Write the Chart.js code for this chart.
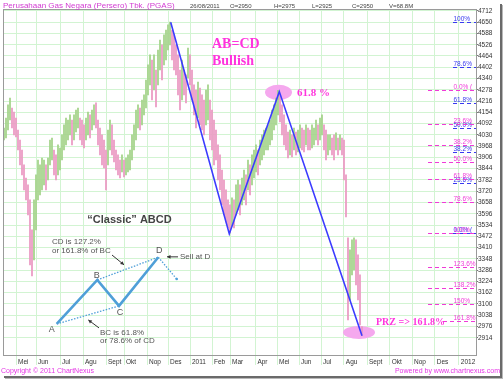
<!DOCTYPE html>
<html lang="id">
<head>
<meta charset="UTF-8">
<title>PGAS - ABCD Bullish</title>
<script src="https://cdn.jsdelivr.net/npm/chart.js"></script>
<style>
    body { margin: 0; background: #fff; }
    #wrap { width: 504px; height: 379px; }
</style>
</head>
<body>
<div id="wrap"><canvas id="chart" width="504" height="379"></canvas></div>
<script>
// one bar every ~2 trading days, May 2010 .. 26 Aug 2011
const highs = [
    4068, 4123, 4195, 4233, 4178, 4156, 4123, 4057, 4002, 3947,
    3865, 3793, 3755, 3672, 3507, 3672, 3810, 3892, 3865, 3903,
    3892, 3865, 3903, 4002, 4013, 3947, 3920, 3975, 3958, 4030,
    4085, 4123, 4112, 4140, 4112, 4140, 4167, 4178, 4123, 4112,
    4085, 4123, 4156, 4140, 4167, 4195, 4206, 4112, 4068, 4030,
    4002, 3947, 4057, 4112, 4085, 4002, 3947, 3920, 3892, 3920,
    3892, 3903, 3920, 3947, 4030, 4085, 4167, 4195, 4178, 4222,
    4250, 4332, 4415, 4470, 4442, 4470, 4387, 4497, 4552, 4525,
    4580, 4607, 4635, 4651, 4607, 4580, 4525, 4470, 4387, 4442,
    4387, 4360, 4508, 4470, 4387, 4305, 4277, 4321, 4288, 4250,
    4222, 4277, 4305, 4222, 4167, 4112, 4057, 3975, 3920, 3837,
    3782, 3727, 3672, 3645, 3683, 3672, 3755, 3782, 3755, 3793,
    3837, 3810, 3892, 3865, 3920, 3947, 3975, 3947, 4002, 4030,
    4057, 4068, 4085, 4112, 4167, 4195, 4233, 4275, 4250, 4195,
    4140, 4085, 4046, 4057, 4030, 4068, 4046, 4057, 4085, 4068,
    4057, 4085, 4068, 4057, 4085, 4068, 4112, 4085, 4123, 4140,
    4085, 4057, 4030, 4030, 4013, 4030, 4041, 4013, 4030, 4013,
    4002, 3810, 3463, 3397, 3452, 3463, 3452, 3370, 3260, 2975
];
const lows = [
    4002, 4013, 4057, 4112, 4068, 4030, 4019, 3947, 3865, 3810,
    3727, 3672, 3590, 3315, 3254, 3342, 3507, 3672, 3700, 3727,
    3755, 3727, 3782, 3865, 3892, 3810, 3782, 3810, 3837, 3892,
    3947, 3975, 4002, 4030, 3975, 4002, 4046, 4068, 4002, 3975,
    3958, 4002, 4030, 4013, 4057, 4085, 4068, 3975, 3920, 3865,
    3848, 3727, 3865, 3947, 3920, 3881, 3837, 3810, 3793, 3826,
    3799, 3810, 3826, 3837, 3892, 3947, 4002, 4068, 4057, 4085,
    4140, 4178, 4250, 4305, 4222, 4277, 4184, 4305, 4387, 4332,
    4415, 4442, 4497, 4525, 4442, 4387, 4360, 4250, 4167, 4222,
    4250, 4206, 4343, 4305, 4222, 4140, 4068, 4123, 4085, 4057,
    4030, 4085, 4112, 4002, 3947, 3865, 3892, 3782, 3727, 3645,
    3590, 3551, 3518, 3490, 3529, 3518, 3590, 3617, 3590, 3645,
    3672, 3645, 3727, 3700, 3755, 3793, 3826, 3810, 3865, 3892,
    3920, 3947, 3947, 3975, 4002, 4057, 4085, 4140, 4101, 4030,
    3975, 3947, 3903, 3920, 3909, 3947, 3920, 3936, 3958, 3947,
    3936, 3975, 3947, 3947, 3958, 3975, 4002, 3975, 4002, 4030,
    3947, 3892, 3920, 3947, 3920, 3892, 3947, 3920, 3947, 3920,
    3782, 3579, 3012, 3122, 3260, 3287, 3205, 3122, 2984, 2925
];

const monthNames = ['Mei', 'Jun', 'Jul', 'Agu', 'Sept', 'Okt', 'Nop', 'Des', '2011', 'Feb', 'Mar',
                    'Apr', 'Mei', 'Jun', 'Jul', 'Agu', 'Sept', 'Okt', 'Nop', 'Des', '2012'];
const monthPos = [6, 16, 28, 39.5, 51, 60, 71.5, 82, 93, 104, 113,
                  125.7, 136.5, 147.5, 158.5, 169.9, 181.5, 192.9, 204, 215.4, 227.4];
const yTicks = [4712, 4650, 4588, 4526, 4464, 4402, 4340, 4278, 4216, 4154, 4092, 4030, 3968, 3906, 3844,
                3782, 3720, 3658, 3596, 3534, 3472, 3410, 3348, 3286, 3224, 3162, 3100, 3038, 2976, 2914];

// A-B-C-D swing points (bar index, price)
const abcdX = [83.35, 112.65, 137.65, 179];
const abcdY = [4650, 3485, 4268, 2925];

const swingA = 4650, swingB = 3490, swingC = 4275;
const fibBlue = [100, 78.6, 61.8, 50, 38.2, 23.6, 0];
const fibPink = [0, 23.6, 38.2, 50, 61.8, 78.6, 100, 123.6, 138.2, 150, 161.8];

const SANS = '"Liberation Sans", Arial, sans-serif';
const SERIF = '"Liberation Serif", "Times New Roman", serif';
const PINK = '#ff33dd';

const bars = highs.map((h, i) => ({ x: i, y: [lows[i], h] }));
const barColors = highs.map((h, i) => {
    if (i === 0) return '#a4d38a';
    return (h + lows[i]) < (highs[i - 1] + lows[i - 1]) ? '#eb9ac3' : '#a4d38a';
});
const abcdPts = abcdX.map((x, i) => ({ x: x, y: abcdY[i] }));

function fibText(r) {
    return (r >= 100 && Number.isInteger(r)) ? r + '%' : r.toFixed(1) + '%';
}

function arrow(ctx, x1, y1, x2, y2, color) {
    const a = Math.atan2(y2 - y1, x2 - x1);
    ctx.strokeStyle = color;
    ctx.fillStyle = color;
    ctx.lineWidth = 1;
    ctx.setLineDash([]);
    ctx.beginPath(); ctx.moveTo(x1, y1); ctx.lineTo(x2, y2); ctx.stroke();
    ctx.beginPath();
    ctx.moveTo(x2, y2);
    ctx.lineTo(x2 - 4 * Math.cos(a - 0.5), y2 - 4 * Math.sin(a - 0.5));
    ctx.lineTo(x2 - 4 * Math.cos(a + 0.5), y2 - 4 * Math.sin(a + 0.5));
    ctx.closePath(); ctx.fill();
}

const overlay = {
    id: 'overlay',
    beforeDatasetsDraw(chart) {
        const ctx = chart.ctx, xs = chart.scales.x, ys = chart.scales.y;
        ctx.save();
        ctx.fillStyle = '#f5a8ee';
        ctx.beginPath();
        ctx.ellipse(xs.getPixelForValue(137.25), ys.getPixelForValue(4264), 13.5, 7.5, 0, 0, Math.PI * 2);
        ctx.fill();
        ctx.beginPath();
        ctx.ellipse(xs.getPixelForValue(177.5), ys.getPixelForValue(2943), 16, 6.5, 0, 0, Math.PI * 2);
        ctx.fill();
        ctx.restore();
    },
    afterDatasetsDraw(chart) {
        const ctx = chart.ctx, xs = chart.scales.x, ys = chart.scales.y, area = chart.chartArea;
        const X = v => xs.getPixelForValue(v), Y = v => ys.getPixelForValue(v);
        ctx.save();
        ctx.beginPath(); ctx.rect(area.left, area.top, area.width, area.height); ctx.clip();

        // fibonacci levels
        ctx.lineWidth = 1;
        ctx.font = '6.5px ' + SANS;
        ctx.textAlign = 'left';
        ctx.textBaseline = 'bottom';
        const drawFib = (levels, price, color, fromX) => {
            levels.forEach(r => {
                const py = Math.round(Y(price(r))) + 0.5;
                const x0 = r === 161.8 ? X(219.5) : X(fromX);
                ctx.strokeStyle = color;
                ctx.setLineDash([4, 3]);
                ctx.beginPath(); ctx.moveTo(x0, py); ctx.lineTo(area.right, py); ctx.stroke();
                ctx.fillStyle = color;
                ctx.fillText(fibText(r) + (r === 0 ? ' (' : ''), X(224.75), py);
            });
        };
        drawFib(fibBlue, r => swingB + r / 100 * (swingA - swingB), '#3939f0', 224.5);
        drawFib(fibPink, r => swingC - r / 100 * (swingC - swingB), '#f03ad8', 212);
        ctx.setLineDash([]);

        // pattern notes
        ctx.fillStyle = PINK;
        ctx.textBaseline = 'middle';
        ctx.font = 'bold 14px ' + SERIF;
        ctx.fillText('AB=CD', X(104), Y(4528));
        ctx.fillText('Bullish', X(104), Y(4437));
        ctx.font = 'bold 11px ' + SERIF;
        ctx.fillText('61.8 %', X(146.5), Y(4258));
        ctx.font = 'bold 10px ' + SERIF;
        ctx.fillText('PRZ => 161.8%', X(186), Y(2998));

        // "Classic" ABCD sketch
        const blue = '#4f9fd8';
        ctx.fillStyle = '#444';
        ctx.textAlign = 'center';
        ctx.font = 'bold 11px ' + SANS;
        ctx.fillText('\u201cClassic\u201d ABCD', X(62.75), Y(3562));
        ctx.textAlign = 'left';
        ctx.fillStyle = '#555';
        ctx.font = '8px ' + SANS;
        ctx.fillText('CD is 127.2%', X(24), Y(3443));
        ctx.fillText('or 161.8% of BC', X(24), Y(3391));
        ctx.fillText('BC is 61.8%', X(48), Y(2939));
        ctx.fillText('or 78.6% of CD', X(48), Y(2896));
        ctx.fillText('Sell at D', X(88), Y(3359));
        ctx.textAlign = 'center';
        ctx.font = '9px ' + SANS;
        ctx.fillText('A', X(23.85), Y(2957));
        ctx.fillText('B', X(46.35), Y(3259));
        ctx.fillText('C', X(58), Y(3050));
        ctx.fillText('D', X(77.65), Y(3393));

        ctx.strokeStyle = blue;
        ctx.lineWidth = 1.3;
        ctx.setLineDash([1.5, 1.5]);
        ctx.beginPath();
        ctx.moveTo(X(26.35), Y(2990)); ctx.lineTo(X(57.5), Y(3089));
        ctx.moveTo(X(46.65), Y(3232)); ctx.lineTo(X(77.15), Y(3357));
        ctx.moveTo(X(77.15), Y(3357)); ctx.lineTo(X(86.35), Y(3237));
        ctx.stroke();
        ctx.setLineDash([]);
        ctx.fillStyle = blue;
        ctx.beginPath(); ctx.arc(X(86.35), Y(3237), 1.3, 0, Math.PI * 2); ctx.fill();
        ctx.lineWidth = 2.6;
        ctx.lineJoin = 'miter';
        ctx.beginPath();
        ctx.moveTo(X(26.35), Y(2990));
        ctx.lineTo(X(46.65), Y(3232));
        ctx.lineTo(X(57.5), Y(3089));
        ctx.lineTo(X(77.15), Y(3357));
        ctx.stroke();

        arrow(ctx, X(54), Y(3369), X(60), Y(3315), '#333');
        arrow(ctx, X(47.5), Y(2968), X(42.15), Y(3012), '#333');
        arrow(ctx, X(87), Y(3359), X(81.5), Y(3359), '#333');
        ctx.restore();
    },
    afterDraw(chart) {
        const ctx = chart.ctx, area = chart.chartArea;
        ctx.save();
        // plot frame
        ctx.strokeStyle = '#9a9a9a';
        ctx.lineWidth = 1;
        ctx.strokeRect(area.left - 0.5, area.top - 0.5, area.width + 1, area.height + 1);

        // header
        ctx.textBaseline = 'middle';
        ctx.textAlign = 'left';
        ctx.fillStyle = '#d23ad2';
        ctx.font = '8px ' + SANS;
        ctx.fillText('Perusahaan Gas Negara (Persero) Tbk. (PGAS)', 3, 6);
        ctx.fillStyle = '#444';
        ctx.font = '6px ' + SANS;
        ctx.fillText('26/08/2011', 190, 6);
        ctx.fillText('O=2950', 230, 6);
        ctx.fillText('H=2975', 274, 6);
        ctx.fillText('L=2925', 312, 6);
        ctx.fillText('C=2950', 352, 6);
        ctx.fillText('V=68.8M', 389, 6);

        // footer
        ctx.fillStyle = '#e535e5';
        ctx.font = '7px ' + SANS;
        ctx.fillText('Copyright \u00a9 2011 ChartNexus', 1, 371);
        ctx.textAlign = 'right';
        ctx.fillText('Powered by www.chartnexus.com', 500, 371);

        // drop shadow of the picture
        ctx.fillStyle = '#6a6a6a';
        ctx.fillRect(4, 376, 498, 2);
        ctx.fillRect(500, 4, 2, 374);
        ctx.fillStyle = '#b8b8b8';
        ctx.fillRect(5, 378, 498, 1);
        ctx.fillRect(502, 5, 1, 374);
        ctx.restore();
    }
};

new Chart(document.getElementById('chart'), {
    type: 'bar',
    data: {
        datasets: [
            {
                type: 'line',
                data: abcdPts,
                borderColor: '#3b3bff',
                borderWidth: 1.6,
                pointRadius: 0,
                tension: 0,
                order: 0
            },
            {
                type: 'bar',
                data: bars,
                backgroundColor: barColors,
                barThickness: 1.1,
                order: 1
            }
        ]
    },
    options: {
        responsive: false,
        animation: false,
        devicePixelRatio: 1,
        layout: { padding: { left: 4, top: 10, right: 0, bottom: 0 } },
        plugins: { legend: { display: false }, tooltip: { enabled: false } },
        scales: {
            x: {
                type: 'linear',
                min: 0,
                max: 236,
                offset: false,
                grid: { color: '#d2f4d2', tickColor: '#d2f4d2', tickLength: 10, offset: false },
                border: { display: false },
                afterBuildTicks: a => { a.ticks = monthPos.map(v => ({ value: v })); },
                afterFit: a => { a.height = 24; },
                ticks: {
                    autoSkip: false,
                    maxRotation: 0,
                    align: 'start',
                    labelOffset: 2,
                    padding: -7,
                    color: '#333',
                    font: { size: 6.5, family: SANS },
                    callback: (v, i) => monthNames[i]
                }
            },
            y: {
                position: 'right',
                min: 2819,
                max: 4717,
                grid: { color: '#d2f4d2', tickColor: '#777', tickLength: 2 },
                border: { display: false },
                afterBuildTicks: a => { a.ticks = yTicks.map(v => ({ value: v })); },
                afterFit: a => { a.width = 28; },
                ticks: {
                    padding: 0,
                    color: '#333',
                    font: { size: 6.5, family: SANS },
                    callback: v => String(v)
                }
            }
        }
    },
    plugins: [overlay]
});
</script>
</body>
</html>
